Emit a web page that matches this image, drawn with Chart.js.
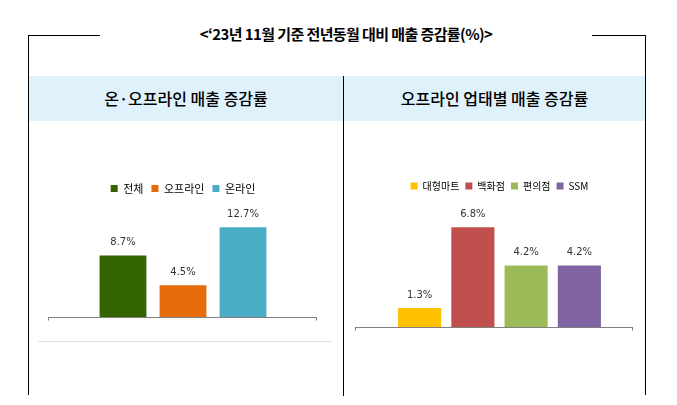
<!DOCTYPE html>
<html><head><meta charset="utf-8">
<script src="https://cdn.jsdelivr.net/npm/chart.js@4"></script>
<style>
body{margin:0;width:677px;height:405px;background:#fff;font-family:"Noto Sans CJK KR",sans-serif;position:relative;overflow:hidden}
.a{position:absolute}
</style></head><body>
<div class="a" style="left:28px;top:35px;width:72px;height:1px;background:#000"></div>
<div class="a" style="left:592px;top:35px;width:54px;height:1px;background:#000"></div>
<div class="a" style="left:28px;top:35px;width:1px;height:360px;background:#000"></div>
<div class="a" style="left:645px;top:35px;width:1px;height:360px;background:#000"></div>
<div class="a" style="left:100px;top:23px;width:492px;text-align:center;font-weight:bold;font-size:15px;line-height:22px;letter-spacing:-0.6px">&lt;‘23년 11월 기준 전년동월 대비 매출 증감률(%)&gt;</div>
<div class="a" style="left:29px;top:76px;width:616px;height:45px;background:#dff1fb"></div>
<div class="a" style="left:343px;top:76px;width:1px;height:320px;background:#000"></div>
<div class="a" style="left:29px;top:76px;width:314px;height:45px;line-height:45px;text-align:center;font-size:16px;font-weight:500">온·오프라인 매출 증감률</div>
<div class="a" style="left:344px;top:76px;width:301px;height:45px;line-height:45px;text-align:center;font-size:16px;font-weight:500">오프라인 업태별 매출 증감률</div>
<div class="a" style="left:38px;top:341px;width:294px;height:1px;background:#e0e0e0"></div>
<div class="a" style="left:38px;top:175px;width:294px;height:150px"><canvas id="c1"></canvas></div>
<div class="a" style="left:350px;top:175px;width:290px;height:160px"><canvas id="c2"></canvas></div>
<script>
const cats1=['전체','오프라인','온라인'];
const vals1=[8.7,4.5,12.7];
const cols1=['#336600','#e46c0a','#4bacc6'];
const cats2=['대형마트','백화점','편의점','SSM'];
const vals2=[1.3,6.8,4.2,4.2];
const cols2=['#ffc000','#c0504d','#9bbb59','#8064a2'];

const deco={id:'deco',afterDatasetsDraw(ch,a,o){
  const c=ch.ctx,ca=ch.chartArea;
  c.save();c.strokeStyle='#808080';c.lineWidth=1;
  const l=ca.left-o.ext[0],r=ca.right+o.ext[1],y=Math.round(ca.bottom)+0.5;
  c.beginPath();c.moveTo(l,y);c.lineTo(r,y);c.moveTo(l+0.5,y);c.lineTo(l+0.5,y+3);c.moveTo(r-0.5,y);c.lineTo(r-0.5,y+3);c.stroke();
  c.fillStyle='#333';c.font='10px "DejaVu Sans"';c.textAlign='center';c.textBaseline='bottom';
  ch.getDatasetMeta(0).data.forEach((b,i)=>c.fillText(ch.data.datasets[0].data[i].toFixed(1)+'%',b.x,b.y-8));
  c.restore();}};

function mk(id,cats,vals,cols,bp,max,ext,pad,fs,lp){
 new Chart(document.getElementById(id),{type:'bar',
  data:{labels:cats,datasets:[{data:vals,backgroundColor:cols,barPercentage:bp,categoryPercentage:1}]},
  options:{responsive:true,maintainAspectRatio:false,animation:false,
   layout:{padding:pad},
   plugins:{deco:{ext},tooltip:{enabled:false},
    legend:{display:true,labels:{boxWidth:7,boxHeight:7,padding:lp,color:'#333',font:{family:'"Noto Sans CJK KR"',size:fs},
     generateLabels:ch=>cats.map((t,i)=>({text:t,fillStyle:cols[i],strokeStyle:cols[i],lineWidth:0,index:i}))}}},
   scales:{x:{display:false},y:{display:false,min:0,max}}}},);
}
Chart.register(deco);
mk('c1',cats1,vals1,cols1,0.78,16,[45,44],{left:55,right:59,top:0,bottom:8},11,8);
mk('c2',cats2,vals2,cols2,0.81,8.6,[38,27],{left:43,right:34,top:0,bottom:8},10,6);
</script>
</body></html>
